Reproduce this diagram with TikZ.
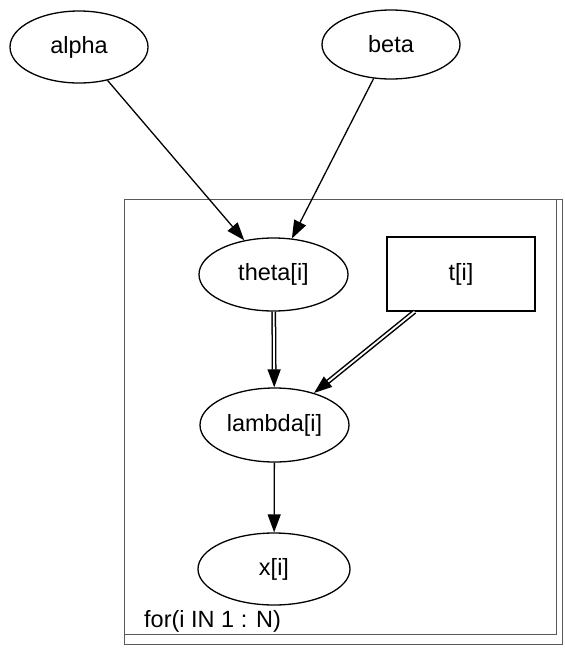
\documentclass[tikz,border=0pt]{standalone}
\usepackage{fontspec}
\setmainfont{Liberation Sans}
\usetikzlibrary{shapes.geometric,arrows.meta}
\begin{document}
\begin{tikzpicture}[x=1pt,y=-1pt,
  lbl/.style={font=\fontsize{23.5pt}{28pt}\selectfont},
  ell/.style={draw, ellipse, line width=1.3pt, inner sep=0pt, lbl},
  rectnode/.style={draw, rectangle, line width=1.3pt, inner sep=0pt, lbl},
  plate/.style={draw=black!65, line width=0.9pt},
  arr/.style={line width=1.3pt, -{Triangle[length=18pt,width=13pt]}},
  darr/.style={line width=1.5pt, double, double distance=1.8pt, -{Triangle[length=18pt,width=13pt]}}
]
\useasboundingbox (0,0) rectangle (565,649);
% plate
\draw[plate] (124,199) rectangle (556,634);
\draw[plate] (124,199) rectangle (562,644);
\node[lbl, anchor=west, inner sep=0pt] (forlbl) at (144,621) {for(i IN 1 : N)};
% nodes
\node[ell, minimum width=138pt, minimum height=72pt] (alpha) at (79,47) {alpha};
\node[ell, minimum width=138pt, minimum height=69pt] (beta) at (391,44.5) {beta};
\node[ell, minimum width=149pt, minimum height=73pt] (theta) at (273.5,274.5) {theta[i]};
\node[rectnode, minimum width=148pt, minimum height=74pt] (t) at (461,274) {t[i]};
\node[ell, minimum width=149pt, minimum height=74pt] (lambda) at (274.5,425) {lambda[i]};
\node[ell, minimum width=152pt, minimum height=72pt] (x) at (274,569) {x[i]};
% edges
\draw[arr] (alpha) -- (theta);
\draw[arr] (beta) -- (theta);
\draw[darr] (theta) -- (lambda);
\draw[darr] (t) -- (lambda);
\draw[arr] (lambda) -- (x);
\end{tikzpicture}
\end{document}
